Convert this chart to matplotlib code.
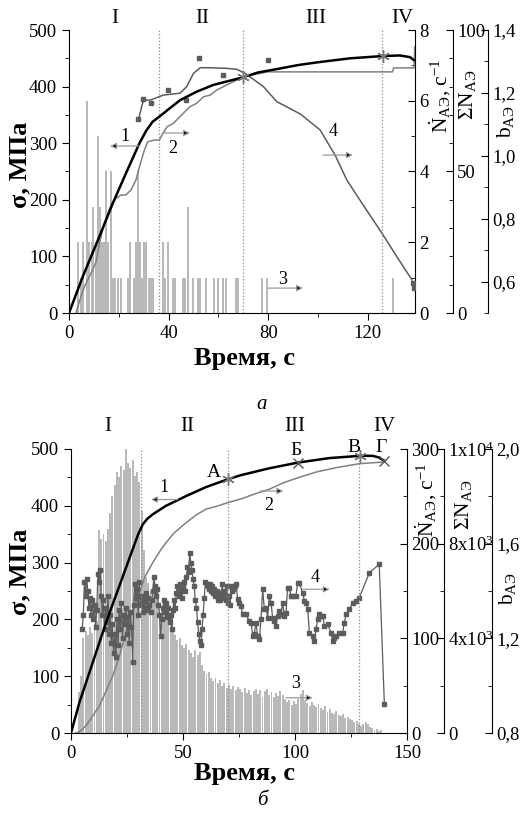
import numpy as np
import matplotlib.pyplot as plt
from matplotlib.ticker import MultipleLocator, FixedLocator, FixedFormatter, FuncFormatter

plt.rcParams['font.family'] = ['Liberation Serif', 'DejaVu Serif']
plt.rcParams['mathtext.fontset'] = 'custom'
plt.rcParams['mathtext.rm'] = 'Liberation Serif'
plt.rcParams['mathtext.it'] = 'Liberation Serif:italic'
plt.rcParams['mathtext.bf'] = 'Liberation Serif:bold'

# ---------- (а) ----------
# кривая 1: напряжение, МПа
a_t1 = [0, 5.5, 12.2, 17.6, 22.9, 28.3, 31, 33.6, 36.6, 40, 44.6, 51.3, 58, 68.7, 76, 84.8,
        92, 100, 113, 126, 133, 137, 138.5]
a_s1 = [0, 64, 135, 194, 247, 300, 322, 338, 348, 360, 376, 391, 403, 415, 425, 432,
        438, 443, 450, 454, 455, 452, 447]
# кривая 2: суммарное число сигналов АЭ
a_t2 = [2.8, 4.8, 6.2, 7.5, 9.5, 10.9, 12.2, 13.5, 14.9, 16.9, 18.9, 20.9, 22.9, 24.9, 26.9,
        28.3, 30.3, 31.6, 34.3, 36.3, 37.7, 39.4, 41.9, 44.6, 48.6, 51.3, 54.0, 56.7, 59.4,
        63.4, 66.0, 68.7, 70.1, 79.6, 130.0, 130.4, 138.6, 138.9]
a_n2 = [0, 5.8, 9.3, 11.7, 15.2, 18.1, 24.6, 29.3, 33.5, 38.2, 40.5, 41.7, 41.7, 43.5, 47.0,
        51.7, 57.6, 60.5, 61.1, 61.1, 63.5, 65.8, 67.0, 69.4, 72.9, 74.1, 76.4, 77.0, 78.8,
        80.6, 81.7, 82.9, 83.5, 85.2, 85.2, 86.6, 86.6, 94.0]
# гистограмма 3: активность АЭ, с^-1
a_t3 = [3.75, 4.8, 5.8, 7.1, 7.9, 9.1, 9.8, 10.9, 11.8, 12.6, 13.3, 13.9, 14.9, 15.7, 16.9,
        17.8, 18.6, 19.6, 20.9, 23.6, 24.7, 26.3, 26.9, 27.9, 28.7, 29.4, 30.3, 31.0, 32.0,
        33.0, 33.9, 37.7, 38.6, 39.7, 41.7, 42.6, 45.7, 46.6, 48.0, 49.7, 51.7, 52.8, 55.1,
        58.4, 59.8, 61.8, 63.1, 67.2, 67.8, 77.6, 79.6, 130.3, 139.2]
a_n3 = [2, 1, 2, 6, 2, 2, 3, 2, 5, 3, 2, 2, 4, 2, 4,
        1, 1, 1, 1, 1, 2, 1, 2, 4, 2, 1, 2, 2, 1,
        1, 1, 2, 1, 2, 1, 1, 1, 1, 3, 1, 1, 1, 1,
        1, 1, 1, 1, 1, 1, 1, 1, 1, 7.9]
# кривая 4: b-параметр (сглаженная) и точки
a_t4 = [27.9, 29.9, 32.6, 37.9, 44.6, 47.3, 50.0, 52.7, 56.7, 63.4, 67.4, 70.8, 78.1, 83.5,
        92.9, 100.9, 106.9, 111.6, 118.7, 125.7, 131.8, 137.8]
a_b4 = [1.116, 1.177, 1.177, 1.193, 1.199, 1.220, 1.262, 1.280, 1.280, 1.278, 1.275, 1.262,
        1.220, 1.172, 1.133, 1.082, 1.002, 0.923, 0.837, 0.754, 0.678, 0.605]
a_t4p = [27.9, 29.9, 32.8, 39.9, 47.2, 52.2, 61.8, 79.9, 138.3, 138.6]
a_b4p = [1.116, 1.180, 1.168, 1.208, 1.176, 1.311, 1.257, 1.305, 0.595, 0.580]
a_marks_t = [70.0, 126.0]
a_marks_s = [417, 454]
a_zones = [36.3, 69.8, 125.9]

# ---------- (б) ----------
b_t1 = [0, 3.7, 9.7, 15.6, 21.6, 27.5, 30, 32, 34, 36.5, 42.4, 51.3, 60.3, 70.2, 75.9, 88.5,
        101.2, 115.3, 129, 134.7, 137.5, 139.9]
b_s1 = [0, 53, 124, 194, 259, 323, 350, 367, 377, 385, 400, 417, 433, 447, 454, 466,
        476, 484, 488, 488, 485, 479]
b_t2 = [2.2, 4, 6, 8, 10, 12.6, 15, 18.6, 21, 24.6, 27, 30.5, 33, 36.5, 40, 42.4, 46, 51.3,
        56, 60.3, 65, 70.2, 75.9, 82, 88.5, 95, 103.4, 110, 118.3, 128.7, 135, 139.9]
b_n2 = [0, 70, 240, 480, 770, 1130, 1630, 2400, 3070, 4250, 5040, 5930, 6600, 7200, 7730,
        8040, 8450, 8880, 9220, 9460, 9580, 9740, 9890, 10100, 10300, 10580, 10850, 11040,
        11210, 11380, 11420, 11450]
b_t3 = np.arange(0.5, 140, 1.0)
b_n3 = [0, 0, 0, 43, 60, 100, 108, 104, 112, 106, 115, 118,
        214, 205, 210, 203, 215, 232, 250, 262, 276, 270, 282, 278, 300, 285, 280, 288, 272,
        276, 265, 235, 193,
        165, 158, 150, 146, 140, 142, 135, 130, 133, 126, 122, 118, 112, 104, 98, 100, 93,
        90, 94, 88, 85, 80, 88, 82, 86, 72, 66, 62, 64, 58, 55, 58, 53, 56, 50, 53, 48,
        51, 47, 50, 45, 49, 46, 43, 48, 42, 45, 40, 44, 47, 41, 45, 38, 44, 46, 40, 43,
        38, 42, 39, 44, 40, 36, 33, 35, 30, 34, 31, 36, 41, 45, 35, 32, 28, 33, 30, 27,
        31, 26, 24, 28, 22, 25, 21, 20, 23, 19, 18, 20, 16, 17, 15, 14, 12, 13, 10, 7,
        9, 12, 10, 6, 5, 3, 4, 2, 3, 0]
b_t4_early = np.arange(5.0, 73.01, 0.5)
b_b4_early = [1.24, 1.30, 1.44, 1.38, 1.45, 1.40, 1.33, 1.37, 1.30, 1.36, 1.28, 1.34, 1.25,
              1.32, 1.47, 1.44, 1.49, 1.38, 1.30, 1.36, 1.24, 1.33, 1.27, 1.38, 1.22, 1.30,
              1.18, 1.26, 1.14, 1.22, 1.12, 1.28, 1.17, 1.32, 1.24, 1.35, 1.20, 1.30, 1.26,
              1.33, 1.22, 1.29, 1.18, 1.31, 1.25, 1.10, 1.34, 1.43, 1.37, 1.41, 1.30, 1.44,
              1.34, 1.38, 1.31, 1.36, 1.33, 1.39, 1.32, 1.37, 1.34, 1.31, 1.36, 1.40, 1.46,
              1.42, 1.38, 1.41, 1.34, 1.30, 1.21, 1.28, 1.33, 1.36, 1.31, 1.35, 1.29, 1.33,
              1.27, 1.30, 1.24, 1.32, 1.36, 1.33, 1.39, 1.42, 1.38, 1.43, 1.40, 1.37, 1.41,
              1.44, 1.40, 1.46, 1.50, 1.48, 1.56, 1.52, 1.49, 1.45, 1.42, 1.36, 1.33, 1.27,
              1.22, 1.19, 1.17, 1.24, 1.30, 1.37, 1.44, 1.43, 1.42, 1.41, 1.43, 1.40, 1.42,
              1.39, 1.41, 1.38, 1.40, 1.36, 1.38, 1.36, 1.39, 1.43, 1.37, 1.40, 1.36, 1.42,
              1.35, 1.38, 1.34, 1.42, 1.40, 1.41, 1.42]
b_t4_late = [73.7, 74.4, 75.2, 75.9, 76.6, 78.1, 79.6, 80.4, 81.1, 81.8, 82.6, 83.3, 84.1,
             84.8, 85.6, 86.3, 87.1, 87.8, 88.5, 89.3, 90.0, 90.8, 91.5, 92.3, 93.0, 93.7,
             94.5, 95.2, 96.0, 96.7, 97.5, 98.2, 99.0, 100.4, 101.2, 101.9, 103.4, 104.2,
             104.9, 105.7, 106.4, 107.9, 108.6, 109.4, 110.1, 110.9, 111.6, 112.4, 113.1,
             114.6, 116.1, 116.8, 117.6, 118.3, 119.8, 121.3, 122.0, 122.8, 124.3, 125.7,
             127.2, 128.7, 133.2, 137.6, 139.9]
b_b4_late = [1.428, 1.365, 1.351, 1.336, 1.301, 1.301, 1.273, 1.266, 1.210, 1.217, 1.266,
             1.210, 1.196, 1.280, 1.407, 1.322, 1.329, 1.287, 1.379, 1.351, 1.287, 1.273,
             1.252, 1.294, 1.315, 1.301, 1.351, 1.294, 1.308, 1.414, 1.414, 1.379, 1.379,
             1.379, 1.435, 1.435, 1.393, 1.358, 1.351, 1.322, 1.224, 1.210, 1.189, 1.238,
             1.280, 1.301, 1.294, 1.294, 1.252, 1.259, 1.224, 1.189, 1.203, 1.210, 1.224,
             1.224, 1.266, 1.301, 1.322, 1.351, 1.358, 1.372, 1.477, 1.513, 0.921]
b_marks = {'А': (70.2, 447, 'star'), 'Б': (101.2, 476, 'x'),
           'В': (129.0, 488, 'star'), 'Г': (139.9, 479, 'x')}
b_zones = [31.2, 70.0, 128.6]

C_HIST = '#b9b9b9'
C_SUM = '#808080'
C_B = '#5c5c5c'
STAR = (6, 2, 0)
W, H = 520, 822


def comma(v, pos):
    return f'{v:.1f}'.replace('.', ',')


def build(rect, xlim, off_sum, off_b):
    ax = fig.add_axes(rect)
    axn = ax.twinx()
    axs = ax.twinx()
    axb = ax.twinx()
    for z, a in enumerate([axn, axs, axb, ax]):
        a.set_zorder(z + 1)
        a.patch.set_visible(False)
    ax.spines[['top', 'right']].set_visible(False)
    for a in (axn, axs, axb):
        a.spines[['top', 'left', 'bottom']].set_visible(False)
        a.tick_params(axis='y', which='both', direction='in', labelsize=13.5, pad=3)
        a.tick_params(axis='y', which='major', length=5)
        a.tick_params(axis='y', which='minor', length=3)
    axs.spines['right'].set_position(('outward', off_sum * 0.72))
    axb.spines['right'].set_position(('outward', off_b * 0.72))
    ax.set_xlim(*xlim)
    ax.set_ylim(0, 500)
    ax.yaxis.set_major_locator(MultipleLocator(100))
    ax.yaxis.set_minor_locator(MultipleLocator(50))
    ax.tick_params(which='both', direction='out', labelsize=13.5)
    ax.tick_params(which='major', length=5)
    ax.tick_params(which='minor', length=3)
    return ax, axn, axs, axb


def arrow(ax, x0, x1, y, label, lx, ly):
    ax.annotate('', xy=(x1, y), xytext=(x0, y),
                arrowprops=dict(arrowstyle='-|>', ec='#9a9a9a', fc='black', lw=0.9,
                                mutation_scale=9, shrinkA=0, shrinkB=0))
    ax.text(lx, ly, label, fontsize=13, ha='center', va='center')


fig = plt.figure(figsize=(W / 100, H / 100), dpi=100)

# ===== верхний график =====
ax, axn, axs, axb = build([69 / W, 1 - 313 / H, 346 / W, 283 / H], (0, 139), 38, 73)
ax.xaxis.set_major_locator(MultipleLocator(40))
ax.xaxis.set_minor_locator(MultipleLocator(20))

axn.bar(a_t3, a_n3, width=0.8, color=C_HIST, linewidth=0)
axn.set_ylim(0, 8)
axn.yaxis.set_major_locator(MultipleLocator(2))
axn.yaxis.set_minor_locator(MultipleLocator(1))

axs.plot(a_t2, a_n2, color=C_SUM, lw=1.1)
axs.set_ylim(0, 100)
axs.yaxis.set_major_locator(MultipleLocator(50))
axs.yaxis.set_minor_locator(MultipleLocator(10))

axb.plot(a_t4, a_b4, color=C_B, lw=1.1)
axb.plot(a_t4p, a_b4p, 's', color=C_B, ms=3.2, lw=0)
axb.set_ylim(0.5, 1.4)
axb.yaxis.set_major_locator(MultipleLocator(0.2))
axb.yaxis.set_minor_locator(MultipleLocator(0.1))
axb.yaxis.set_major_formatter(FuncFormatter(comma))

for z in a_zones:
    ax.axvline(z, color='#8a8a8a', ls=':', lw=0.9)
ax.plot(a_t1, a_s1, color='black', lw=1.8)
ax.plot(a_marks_t, a_marks_s, ls='none', marker=STAR, ms=9, mew=1.0, color='#777777')

arrow(ax, 28.5, 16.5, 295, '1', 22.5, 311)
arrow(ax, 37.8, 48.6, 318, '2', 41.5, 291)
arrow(ax, 102, 114, 279, '4', 106, 320)
arrow(ax, 80, 94, 44, '3', 86, 60)

for s, x in zip(['I', 'II', 'III', 'IV'], [18.5, 53.5, 99.0, 134.0]):
    ax.text(x, 1.042, s, transform=ax.get_xaxis_transform(), fontsize=15,
            ha='center', va='center')

# ===== нижний график =====
bx, bxn, bxs, bxb = build([71 / W, 1 - 733 / H, 336 / W, 284 / H], (0, 150), 37, 85)
bx.xaxis.set_major_locator(MultipleLocator(50))
bx.xaxis.set_minor_locator(MultipleLocator(25))

bxn.bar(b_t3, b_n3, width=0.85, color=C_HIST, linewidth=0)
bxn.set_ylim(0, 300)
bxn.yaxis.set_major_locator(MultipleLocator(100))
bxn.yaxis.set_minor_locator(MultipleLocator(50))

bxs.plot(b_t2, b_n2, color=C_SUM, lw=1.1)
bxs.set_ylim(0, 12000)
bxs.yaxis.set_major_locator(FixedLocator([0, 4000, 8000, 12000]))
bxs.yaxis.set_major_formatter(FixedFormatter(['0', '4x10$^3$', '8x10$^3$', '1x10$^4$']))
bxs.yaxis.set_minor_locator(MultipleLocator(2000))

b4_t = list(b_t4_early) + b_t4_late
b4_v = b_b4_early + b_b4_late
bxb.plot(b4_t, b4_v, color=C_B, lw=0.9, marker='s', ms=3.0, mfc=C_B, mec=C_B)
bxb.set_ylim(0.8, 2.0)
bxb.yaxis.set_major_locator(MultipleLocator(0.4))
bxb.yaxis.set_minor_locator(MultipleLocator(0.2))
bxb.yaxis.set_major_formatter(FuncFormatter(comma))

bx.axvline(b_zones[0], color='#8a8a8a', ls=':', lw=0.9)
bx.axvline(b_zones[1], color='#8a8a8a', ls=':', lw=0.9)
bx.plot([b_zones[2], b_zones[2]], [0, b_marks['В'][1]], color='#8a8a8a', ls=':', lw=0.9)
bx.plot(b_t1, b_s1, color='black', lw=1.8)
for name, (mt, ms_, kind) in b_marks.items():
    if kind == 'star':
        bx.plot(mt, ms_, marker=STAR, ms=9, mew=1.0, color='#777777')
    else:
        bx.plot(mt, ms_, marker='x', ms=7, mew=1.0, color='#555555')
bx.text(64, 459, 'А', fontsize=14, ha='center', va='center')
bx.text(100.5, 497, 'Б', fontsize=14, ha='center', va='center')
bx.text(126.5, 502, 'В', fontsize=14, ha='center', va='center')
bx.text(138.5, 502, 'Г', fontsize=14, ha='center', va='center')

arrow(bx, 47.6, 35.7, 411, '1', 41.7, 432)
arrow(bx, 84.4, 94.8, 426, '2', 88.5, 400)
arrow(bx, 103.4, 115.5, 253, '4', 108.9, 273)
arrow(bx, 96, 107.9, 62, '3', 100.4, 88)

for s, x in zip(['I', 'II', 'III', 'IV'], [16.5, 51.8, 100.0, 139.7]):
    bx.text(x, 1.080, s, transform=bx.get_xaxis_transform(), fontsize=15,
            ha='center', va='center')


# ===== подписи осей =====
def ftext(x, y, s, **kw):
    fig.text(x / W, 1 - y / H, s, ha='center', va='center', **kw)


lab = dict(fontsize=19, fontweight='bold')
ftext(20, 165, 'σ, МПа', rotation=90, **lab)
ftext(244, 358, 'Время, с', **lab)
ftext(20, 572, 'σ, МПа', rotation=90, **lab)
ftext(245, 773, 'Время, с', **lab)

rl = dict(fontsize=15.5, rotation=90)
ftext(440, 96, r'$\dot{\mathrm{N}}_{\mathrm{АЭ}}$, с$^{-1}$', **rl)
ftext(468, 95, r'$\Sigma\mathrm{N}_{\mathrm{АЭ}}$', **rl)
ftext(506, 121, r'$\mathrm{b}_{\mathrm{АЭ}}$', **rl)
ftext(426, 500, r'$\dot{\mathrm{N}}_{\mathrm{АЭ}}$, с$^{-1}$', **rl)
ftext(464, 505, r'$\Sigma\mathrm{N}_{\mathrm{АЭ}}$', **rl)
ftext(507, 588, r'$\mathrm{b}_{\mathrm{АЭ}}$', **rl)

ftext(262, 404, 'а', fontsize=15, style='italic')
ftext(262, 800, 'б', fontsize=15, style='italic')

fig.savefig('out.png', dpi=100, facecolor='white')
